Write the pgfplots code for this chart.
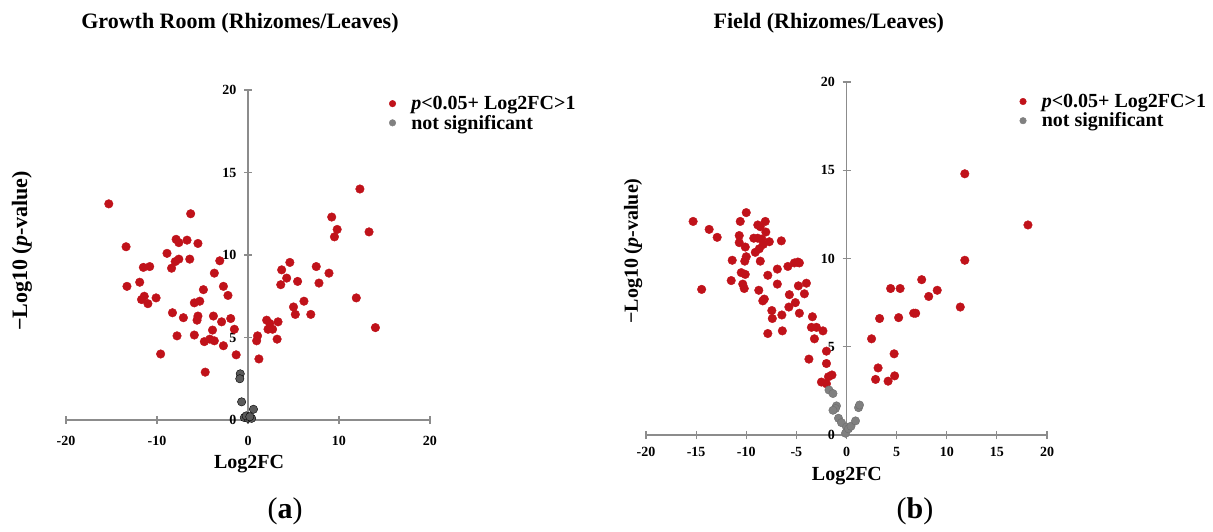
\documentclass[border=0pt]{standalone}
\usepackage{fontspec}
\setmainfont{Liberation Serif}
\usepackage{pgfplots}
\pgfplotsset{compat=1.18}

\definecolor{sigred}{HTML}{C0121A}
\definecolor{nsgrayL}{HTML}{5A5A5A}
\definecolor{nsgrayR}{HTML}{808080}
\definecolor{axgray}{HTML}{8C8C8C}

\tikzset{
  lab/.style={font=\bfseries\fontsize{20}{20}\selectfont},
  labL/.style={font=\bfseries\fontsize{22}{22}\selectfont},
  ttl/.style={font=\bfseries\fontsize{22}{22}\selectfont},
}

\pgfplotsset{volc/.style={
  scale only axis,
  axis lines=middle,
  axis line style={-, draw=axgray, line width=1.3pt},
  enlargelimits=false,
  xmin=-20, xmax=20, ymin=0, ymax=20,
  ytick={0,5,10,15,20},
  yticklabels={0,5,10,15,20},
  hide obscured x ticks=false,
  hide obscured y ticks=false,
  tick align=center,
  major tick length=8pt,
  tick style={draw=axgray, line width=1.2pt},
  ticklabel style={font=\bfseries\fontsize{14}{14}\selectfont},
  yticklabel style={xshift=-4pt},
  clip=false,
  legend cell align=left,
  legend style={draw=none, fill=none, inner sep=0pt, outer sep=0pt,
    font=\bfseries\fontsize{20}{20}\selectfont, row sep=1pt,
    nodes={inner sep=1.5pt},
    /tikz/every odd column/.append style={column sep=14pt}},
  sig/.style={only marks, mark=*, mark size=4.3pt, draw=sigred, fill=sigred},
}}

\begin{document}
\begin{tikzpicture}
\useasboundingbox (0pt,0pt) rectangle (1213pt,531pt);

% ---------------- (a) Growth room ----------------
\begin{axis}[volc,
  at={(66pt,111pt)}, anchor=south west,
  width=364pt, height=330pt,
  xtick={-20,-10,0,10,20},
  xticklabels={-20,-10,0,10,20},
  xticklabel style={yshift=-9pt},
  xlabel={Log2FC},
  ylabel={−Log10 (\textit{p}-value)},
  every axis x label/.style={lab, at={(axis description cs:0.503,-0.133)}, anchor=center},
  every axis y label/.style={labL, at={(axis description cs:-0.121,0.512)}, anchor=center, rotate=90},
  title={Growth Room (Rhizomes/Leaves)},
  every axis title/.style={ttl, at={(axis description cs:0.478,1.203)}, anchor=center},
  legend style={at={(axis description cs:0.888,0.929)}, anchor=west},
]
\addlegendimage{only marks, mark=*, mark size=3.3pt, draw=sigred, fill=sigred}
\addlegendentry{\textit{p}<0.05+ Log2FC>1}
\addlegendimage{only marks, mark=*, mark size=3.3pt, draw=nsgrayR, fill=nsgrayR}
\addlegendentry{not significant}

\addplot[sig, forget plot] coordinates {
(-15.3,13.1) (-13.4,10.5) (-6.3,12.5) (-7.9,10.95) (-7.6,10.75) (-6.7,10.9)
(-5.5,10.7) (-8.9,10.1) (-7.6,9.75) (-8.0,9.6) (-6.4,9.75) (-8.4,9.2)
(-11.5,9.25) (-10.8,9.3) (-3.1,9.65) (-3.7,8.9) (-13.3,8.1) (-11.9,8.35)
(-4.9,7.9) (-2.7,8.1) (-2.2,7.55) (-11.7,7.3) (-11.4,7.5) (-11.0,7.05)
(-10.1,7.4) (-5.9,7.1) (-5.3,7.2) (-8.3,6.5) (-7.1,6.2) (-5.5,6.3)
(-5.6,6.05) (-3.8,6.3) (-2.9,5.95) (-1.9,6.15) (-1.5,5.5) (-3.9,5.45)
(-7.8,5.1) (-5.9,5.15) (-4.8,4.75) (-4.2,4.9) (-3.7,4.8) (-2.7,4.5)
(-9.6,4.0) (-1.3,3.95) (-4.7,2.9)
(1.2,3.7) (12.3,14.0) (9.2,12.3) (9.8,11.55) (9.5,11.1) (13.3,11.4)
(4.6,9.55) (3.7,9.1) (7.5,9.3) (8.9,8.9) (4.25,8.6) (5.45,8.4)
(3.6,8.2) (7.8,8.3) (11.9,7.4) (6.15,7.2) (5.0,6.85) (5.2,6.4)
(6.9,6.4) (14.0,5.6) (2.05,6.05) (2.4,5.85) (3.3,5.95) (2.2,5.5)
(2.7,5.5) (3.2,4.9) (1.05,5.1) (0.95,4.8)
};
\addplot[only marks, mark=*, mark size=4.2pt, draw=black, fill=nsgrayL, forget plot] coordinates {
(-0.85,2.8) (-0.9,2.5) (-0.7,1.1) (0.6,0.65)
(-0.4,0.15) (0.0,0.1) (0.4,0.1) (-0.2,0.25) (0.2,0.2)
};
\node[font=\fontsize{30}{30}\selectfont] at (axis description cs:0.602,-0.276) {(\textbf{a})};
\end{axis}

% ---------------- (b) Field ----------------
\begin{axis}[volc,
  at={(646pt,96pt)}, anchor=south west,
  width=401pt, height=353pt,
  xtick={-20,-15,-10,-5,0,5,10,15,20},
  xticklabels={-20,-15,-10,-5,0,5,10,15,20},
  xticklabel style={yshift=-5pt},
  xlabel={Log2FC},
  ylabel={−Log10 (\textit{p}-value)},
  every axis x label/.style={lab, at={(axis description cs:0.501,-0.116)}, anchor=center},
  every axis y label/.style={lab, at={(axis description cs:-0.032,0.521)}, anchor=center, rotate=90},
  title={Field (Rhizomes/Leaves)},
  every axis title/.style={ttl, at={(axis description cs:0.456,1.167)}, anchor=center},
  legend style={at={(axis description cs:0.932,0.917)}, anchor=west},
]
\addlegendimage{only marks, mark=*, mark size=3.3pt, draw=sigred, fill=sigred}
\addlegendentry{\textit{p}<0.05+ Log2FC>1}
\addlegendimage{only marks, mark=*, mark size=3.3pt, draw=nsgrayR, fill=nsgrayR}
\addlegendentry{not significant}

\addplot[sig, forget plot] coordinates {
(-15.3,12.1) (-10.0,12.6) (-13.7,11.65) (-12.9,11.2) (-10.6,12.1) (-8.85,11.9)
(-8.1,12.1) (-8.6,11.8) (-8.05,11.5) (-10.7,11.3) (-9.25,11.15) (-8.85,11.15)
(-10.7,10.9) (-10.1,10.65) (-8.45,11.1) (-7.7,10.95) (-8.3,10.8) (-8.7,10.55)
(-9.1,10.35) (-6.5,11.0) (-10.0,10.1) (-11.4,9.9) (-10.15,9.85) (-8.6,9.85)
(-5.2,9.75) (-4.85,9.8) (-4.7,9.75) (-5.85,9.55) (-6.9,9.4) (-10.5,9.2)
(-10.1,9.1) (-7.85,9.05) (-11.5,8.75) (-10.35,8.55) (-6.9,8.55) (-4.0,8.6)
(-4.8,8.45) (-10.2,8.3) (-14.45,8.25) (-8.75,8.2) (-5.7,7.95) (-4.2,8.0)
(-8.35,7.6) (-8.2,7.7) (-5.1,7.5) (-5.75,7.25) (-7.45,7.05) (-7.4,6.6)
(-4.7,6.9) (-6.45,6.8) (-3.4,6.7) (-3.5,6.1) (-3.0,6.1) (-2.35,5.9)
(-7.85,5.75) (-6.4,5.9) (-3.2,5.45) (-2.0,4.75) (-3.75,4.3) (-2.0,4.05)
(-1.45,3.4) (-1.8,3.3) (-2.5,3.0) (-2.0,2.9)
(11.8,14.8) (18.1,11.9) (11.8,9.9) (7.5,8.8) (4.4,8.3) (5.35,8.3)
(9.05,8.2) (8.2,7.85) (11.35,7.25) (6.7,6.9) (6.9,6.9) (3.3,6.6)
(5.2,6.65) (2.5,5.45) (4.75,4.6) (3.15,3.8) (2.9,3.15) (4.8,3.35) (4.15,3.05)
};
\addplot[only marks, mark=*, mark size=4.2pt, draw=nsgrayR!85!black, fill=nsgrayR, forget plot] coordinates {
(-1.75,2.55) (-1.35,2.35) (-1.0,1.65) (-1.1,1.5) (-1.35,1.4) (-0.8,0.95)
(-0.5,0.7) (0.0,0.45) (-0.1,0.1) (0.2,0.35) (0.45,0.5) (0.9,0.8)
(1.2,1.55) (1.3,1.7)
};
\node[font=\fontsize{30}{30}\selectfont] at (axis description cs:0.671,-0.215) {(\textbf{b})};
\end{axis}
\end{tikzpicture}
\end{document}
